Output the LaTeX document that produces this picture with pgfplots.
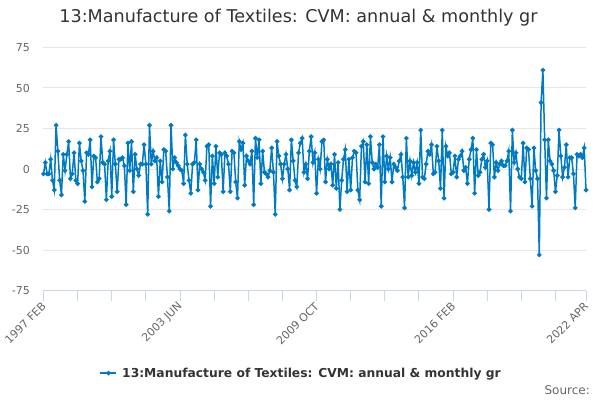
\documentclass[border=0pt]{standalone}
\usepackage{pgfplots}
\pgfplotsset{compat=1.18}
\usepackage{pgfplotstable}
\usepackage{fontspec}
\setmainfont{DejaVu Sans}
\definecolor{linec}{RGB}{0,122,195}
\definecolor{gridc}{RGB}{230,230,230}
\definecolor{axisc}{RGB}{204,214,235}
\definecolor{labc}{RGB}{102,102,102}
\definecolor{titc}{RGB}{51,51,51}
\pgfplotstableread{
x y
0 -3
1 4
2 -3
3 -3
4 6
5 -7
6 -13
7 27
8 11
9 -7
10 -16
11 9
12 -1
13 9
14 17
15 -6
16 -3
17 10
18 -7
19 -9
20 16
21 5
22 -1
23 -20
24 10
25 9
26 18
27 -11
28 8
29 7
30 -8
31 -6
32 20
33 4
34 3
35 -19
36 5
37 11
38 -17
39 18
40 3
41 -14
42 6
43 6
44 7
45 2
46 -22
47 16
48 -1
49 17
50 -14
51 9
52 0
53 -4
54 3
55 3
56 15
57 3
58 -28
59 27
60 3
61 11
62 5
63 7
64 -17
65 5
66 -8
67 12
68 11
69 -5
70 -26
71 27
72 0
73 7
74 4
75 2
76 0
77 -1
78 -9
79 21
80 3
81 -7
82 -15
83 3
84 4
85 18
86 -13
87 3
88 0
89 -2
90 -7
91 14
92 15
93 -23
94 8
95 -9
96 14
97 -5
98 10
99 9
100 -14
101 10
102 8
103 3
104 -14
105 11
106 10
107 -8
108 -18
109 17
110 12
111 16
112 -10
113 8
114 5
115 3
116 11
117 -22
118 19
119 7
120 18
121 -9
122 11
123 -2
124 -3
125 -5
126 -1
127 13
128 -2
129 -28
130 17
131 8
132 3
133 -6
134 3
135 9
136 0
137 -13
138 18
139 5
140 -7
141 -11
142 10
143 16
144 19
145 -2
146 3
147 -6
148 11
149 20
150 4
151 10
152 -15
153 6
154 0
155 17
156 18
157 -8
158 6
159 0
160 3
161 -10
162 9
163 -12
164 4
165 -25
166 -7
167 6
168 12
169 -14
170 6
171 -13
172 7
173 11
174 10
175 -13
176 -19
177 14
178 17
179 -8
180 15
181 -9
182 20
183 4
184 0
185 3
186 1
187 15
188 -23
189 20
190 -8
191 8
192 0
193 7
194 -8
195 3
196 1
197 -1
198 5
199 9
200 -5
201 -24
202 19
203 -5
204 5
205 -4
206 4
207 -2
208 4
209 -9
210 24
211 -5
212 -6
213 3
214 11
215 9
216 15
217 -3
218 -2
219 14
220 5
221 -12
222 24
223 -18
224 14
225 8
226 10
227 -3
228 -2
229 8
230 -5
231 6
232 8
233 11
234 -1
235 1
236 -9
237 6
238 12
239 19
240 -15
241 12
242 -4
243 -2
244 6
245 9
246 1
247 5
248 -25
249 16
250 15
251 -5
252 4
253 -1
254 3
255 5
256 2
257 2
258 5
259 11
260 -26
261 24
262 4
263 10
264 0
265 -5
266 -6
267 16
268 -8
269 13
270 12
271 -6
272 -23
273 13
274 -1
275 -6
276 -53
277 41
278 61
279 18
280 -18
281 18
282 5
283 3
284 -1
285 -14
286 -4
287 24
288 8
289 -5
290 1
291 15
292 -5
293 7
294 7
295 -3
296 -24
297 9
298 8
299 9
300 7
301 13
302 -13
}\datatable
\begin{document}
\begin{tikzpicture}[x=1pt,y=1pt]
\path[use as bounding box] (0,0) rectangle (600,400);
\begin{axis}[
  at={(43.5pt,109.5pt)}, anchor=south west,
  scale only axis, width=542.5pt, height=243pt,
  xmin=0, xmax=302, ymin=-75, ymax=75,
  clip=false,
  xtick={0,76,152,228,302},
  xticklabels={1997 FEB,2003 JUN,2009 OCT,2016 FEB,2022 APR},
  minor xtick={19,38,57,95,114,133,171,190,209,247,266,285},
  ytick={-75,-50,...,75},
  ymajorgrids, grid style={gridc, line width=1pt},
  axis x line=bottom, axis y line=left,
  x axis line style={-, draw=axisc, line width=1pt},
  y axis line style={draw=none},
  xtick style={draw=axisc, line width=1pt},
  minor x tick style={draw=axisc, line width=1pt},
  ytick style={draw=none},
  tick align=outside, major tick length=10pt, minor tick length=10pt,
  xticklabel style={rotate=45, anchor=east, yshift=-3pt, xshift=1pt, font=\fontsize{11}{13}\selectfont, text=labc},
  yticklabel style={font=\fontsize{11}{13}\selectfont, text=labc},
  /pgf/number format/assume math mode=true,
  legend style={at={(0.475,-0.34)}, anchor=center, draw=none, fill=none,
    font=\bfseries\fontsize{12.3}{15}\selectfont, text=titc},
  legend image code/.code={\draw[mark repeat=2,mark phase=2,#1] plot coordinates {(0pt,0pt)(8pt,0pt)(16pt,0pt)};},
]
\addplot[linec, line width=1.5pt, mark=*, mark size=1.5pt, mark options={fill=linec, draw=linec}] table[x=x,y=y] {\datatable};
\addlegendentry{\hspace{3pt}13:Manufacture of Textiles: CVM: annual \& monthly gr}
\end{axis}
\node[font=\fontsize{17.6}{21}\selectfont, text=titc] at (298.5,382) {13:Manufacture of Textiles: CVM: annual \& monthly gr};
\node[anchor=base east, inner sep=0pt, font=\fontsize{12}{14}\selectfont, text=labc] at (590,6) {Source:};
\end{tikzpicture}
\end{document}
